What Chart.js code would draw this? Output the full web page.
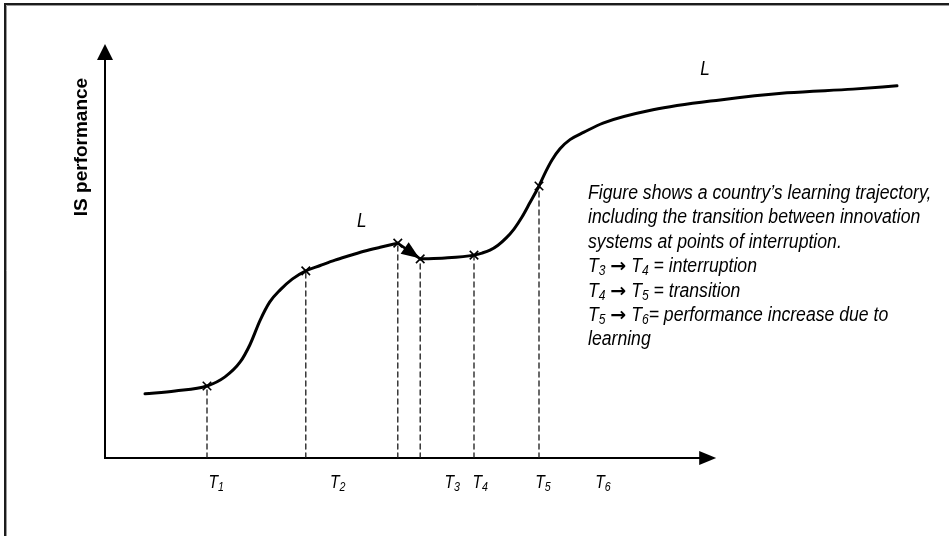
<!DOCTYPE html>
<html><head><meta charset="utf-8">
<script src="https://cdn.jsdelivr.net/npm/chart.js@4.4.1/dist/chart.umd.min.js"></script>
<style>html,body{margin:0;padding:0;background:#fff;}canvas{display:block;}</style>
</head><body>
<canvas id="c" width="949" height="536"></canvas>
<script>
// ---- data (time units 0..100, performance units 0..100) ----
const curveBeforeT = [5, 8.75, 12.75, 15, 16.9, 18.1, 19.4, 20.6, 21.9, 23.4, 25.1, 26.9, 28.75, 30.6, 32.5, 34.4, 36.6];
const curveBeforeP = [15.5, 16.2, 17.4, 19.6, 23.2, 27.3, 33.3, 37.7, 40.6, 43.2, 45.2, 46.5, 47.8, 48.9, 50.0, 50.9, 51.9];
const curveAfterT = [39.4, 42.5, 46.125, 47.125, 48.125, 49.125, 50.125, 51.125, 52.125, 53.125, 54.25, 55.125, 55.875, 56.875, 58.125, 59.875, 62.25, 68.5, 76.9, 85.25, 93.5, 99];
const curveAfterP = [48.1, 48.3, 49.0, 49.5, 50.2, 51.4, 53.1, 55.3, 58.2, 61.7, 65.7, 69.3, 72.0, 74.7, 76.9, 78.7, 80.9, 84.1, 86.5, 88.2, 89.1, 89.9];
const markT = [12.75, 25.1, 36.6, 39.4, 46.125, 54.25];
const markP = [17.4, 45.2, 51.9, 48.1, 49.0, 65.7];
const tickSubs = ['1', '2', '3', '4', '5', '6'];
const tickT = [13.9, 29.1, 43.4, 46.9, 54.75, 62.25];
const curveLabelT = [32.1, 75];
const curveLabelP = [57.5, 94.2];
const curveLabel = 'L';
const axisTitle = 'IS performance';
const noteLines = [
  'Figure shows a country’s learning trajectory,',
  'including the transition between innovation',
  'systems at points of interruption.',
  'T_3 → T_4 = interruption',
  'T_4 → T_5 = transition',
  'T_5 → T_6= performance increase due to',
  'learning'
];
const axisEndT = 76.4; // where the time axis arrow ends
const axisTopP = 100;

const toPts = (xs, ys) => xs.map((x, i) => ({x: x, y: ys[i]}));

const datasets = [];
datasets.push({data: toPts(curveBeforeT, curveBeforeP), borderColor: '#000', borderWidth: 3, pointRadius: 0, cubicInterpolationMode: 'monotone', fill: false});
datasets.push({data: toPts(curveAfterT, curveAfterP), borderColor: '#000', borderWidth: 3, pointRadius: 0, cubicInterpolationMode: 'monotone', fill: false});
datasets.push({data: toPts([markT[2], markT[3]], [markP[2], markP[3]]), borderColor: '#000', borderWidth: 2.5, pointRadius: 0, fill: false, isArrow: true});
markT.forEach((t, i) => {
  datasets.push({data: [{x: t, y: 0}, {x: t, y: markP[i]}], borderColor: '#1a1a1a', borderWidth: 1.3, borderDash: [5, 4], pointRadius: 0, fill: false});
});
datasets.push({type: 'scatter', data: toPts(markT, markP), pointStyle: 'crossRot', pointRadius: 6, borderColor: '#000', borderWidth: 1.6, showLine: false});

const FAM = '"Liberation Sans", Arial, sans-serif';

function narrowText(ctx, text, x, y, font, align, nar) {
  const k = nar || 0.86;
  ctx.save();
  ctx.font = font;
  const w = ctx.measureText(text).width * k;
  let sx = x;
  if (align === 'center') sx = x - w / 2;
  ctx.translate(sx, y);
  ctx.scale(k, 1);
  ctx.textAlign = 'left';
  ctx.fillText(text, 0, 0);
  ctx.restore();
  return w;
}

function richLine(ctx, str, x, y, size) {
  const parts = str.split(/(_\d|→)/).filter(s => s.length);
  let cx = x;
  parts.forEach(p => {
    if (p[0] === '_') {
      cx += narrowText(ctx, p.slice(1), cx, y + 3, 'italic ' + Math.round(size * 0.68) + 'px ' + FAM);
    } else if (p === '→') {
      ctx.save();
      ctx.font = 'bold ' + Math.round(size * 0.95) + 'px "DejaVu Sans", sans-serif';
      ctx.textAlign = 'left';
      ctx.fillText('→', cx, y);
      cx += ctx.measureText('→').width;
      ctx.restore();
    } else {
      cx += narrowText(ctx, p, cx, y, 'italic ' + size + 'px ' + FAM);
    }
  });
  return cx - x;
}

const decor = {
  id: 'decor',
  beforeDatasetsDraw(chart) {
    const ctx = chart.ctx;
    const xs = chart.scales.x, ys = chart.scales.y;
    const x0 = xs.getPixelForValue(0), y0 = ys.getPixelForValue(0);
    const xEnd = xs.getPixelForValue(axisEndT), yEnd = ys.getPixelForValue(axisTopP);
    ctx.save();
    // outer frame (top & left)
    ctx.strokeStyle = '#1c1c1c';
    ctx.lineWidth = 2;
    ctx.beginPath();
    ctx.moveTo(5, 536); ctx.lineTo(5, 4); ctx.lineTo(949, 4);
    ctx.stroke();
    ctx.strokeStyle = '#9a9a9a';
    ctx.lineWidth = 1;
    ctx.beginPath();
    ctx.moveTo(6.5, 536); ctx.lineTo(6.5, 5.5); ctx.lineTo(949, 5.5);
    ctx.stroke();
    // axes
    ctx.strokeStyle = '#000';
    ctx.fillStyle = '#000';
    ctx.lineWidth = 2;
    ctx.beginPath();
    ctx.moveTo(x0, y0); ctx.lineTo(x0, yEnd + 12);
    ctx.moveTo(x0 - 1, y0); ctx.lineTo(xEnd - 14, y0);
    ctx.stroke();
    ctx.beginPath();
    ctx.moveTo(x0, yEnd); ctx.lineTo(x0 - 8, yEnd + 16); ctx.lineTo(x0 + 8, yEnd + 16); ctx.closePath();
    ctx.fill();
    ctx.beginPath();
    ctx.moveTo(xEnd, y0); ctx.lineTo(xEnd - 17, y0 - 7); ctx.lineTo(xEnd - 17, y0 + 7); ctx.closePath();
    ctx.fill();
    ctx.restore();
  },
  afterDatasetsDraw(chart) {
    const ctx = chart.ctx;
    const xs = chart.scales.x, ys = chart.scales.y;
    ctx.save();
    ctx.fillStyle = '#000';
    ctx.textBaseline = 'alphabetic';
    // arrowhead on interruption jump
    const a = chart.data.datasets.find(d => d.isArrow).data;
    const ax0 = xs.getPixelForValue(a[0].x), ay0 = ys.getPixelForValue(a[0].y);
    const ax1 = xs.getPixelForValue(a[1].x), ay1 = ys.getPixelForValue(a[1].y);
    const ang = Math.atan2(ay1 - ay0, ax1 - ax0);
    const tx = ax1 - Math.cos(ang) * 1, ty = ay1 - Math.sin(ang) * 1;
    const L = 18, W = 7;
    ctx.beginPath();
    ctx.moveTo(tx, ty);
    ctx.lineTo(tx - Math.cos(ang) * L - Math.sin(ang) * W, ty - Math.sin(ang) * L + Math.cos(ang) * W);
    ctx.lineTo(tx - Math.cos(ang) * L + Math.sin(ang) * W, ty - Math.sin(ang) * L - Math.cos(ang) * W);
    ctx.closePath();
    ctx.fill();
    // time labels
    const y0 = ys.getPixelForValue(0);
    tickT.forEach((t, i) => {
      const cx = xs.getPixelForValue(t);
      const f = 'italic 19px ' + FAM, fs = 'italic 13px ' + FAM;
      ctx.font = f;
      const wT = ctx.measureText('T').width * 0.82;
      ctx.font = fs;
      const wS = ctx.measureText(tickSubs[i]).width * 0.82;
      const sx = cx - (wT + wS) / 2;
      narrowText(ctx, 'T', sx, y0 + 30, f, 'left', 0.82);
      narrowText(ctx, tickSubs[i], sx + wT, y0 + 33, fs, 'left', 0.82);
    });
    // curve labels
    curveLabelT.forEach((t, i) => {
      narrowText(ctx, curveLabel, xs.getPixelForValue(t), ys.getPixelForValue(curveLabelP[i]) + 7, 'italic 20px ' + FAM, 'center');
    });
    // y-axis title
    ctx.save();
    ctx.translate(87, 147);
    ctx.rotate(-Math.PI / 2);
    ctx.font = 'bold 19px ' + FAM;
    ctx.textAlign = 'center';
    ctx.fillText(axisTitle, 0, 0);
    ctx.restore();
    // note text
    noteLines.forEach((ln, i) => {
      richLine(ctx, ln, 588, 199 + i * 24.4, 20.5);
    });
    ctx.restore();
  }
};

new Chart(document.getElementById('c'), {
  type: 'line',
  data: {datasets: datasets},
  options: {
    responsive: false,
    animation: false,
    layout: {padding: {left: 105, right: 44, top: 44, bottom: 78}},
    plugins: {legend: {display: false}, tooltip: {enabled: false}},
    scales: {
      x: {type: 'linear', min: 0, max: 100, display: false},
      y: {type: 'linear', min: 0, max: 100, display: false}
    },
    elements: {line: {borderCapStyle: 'round'}}
  },
  plugins: [decor]
});
</script>
</body></html>
